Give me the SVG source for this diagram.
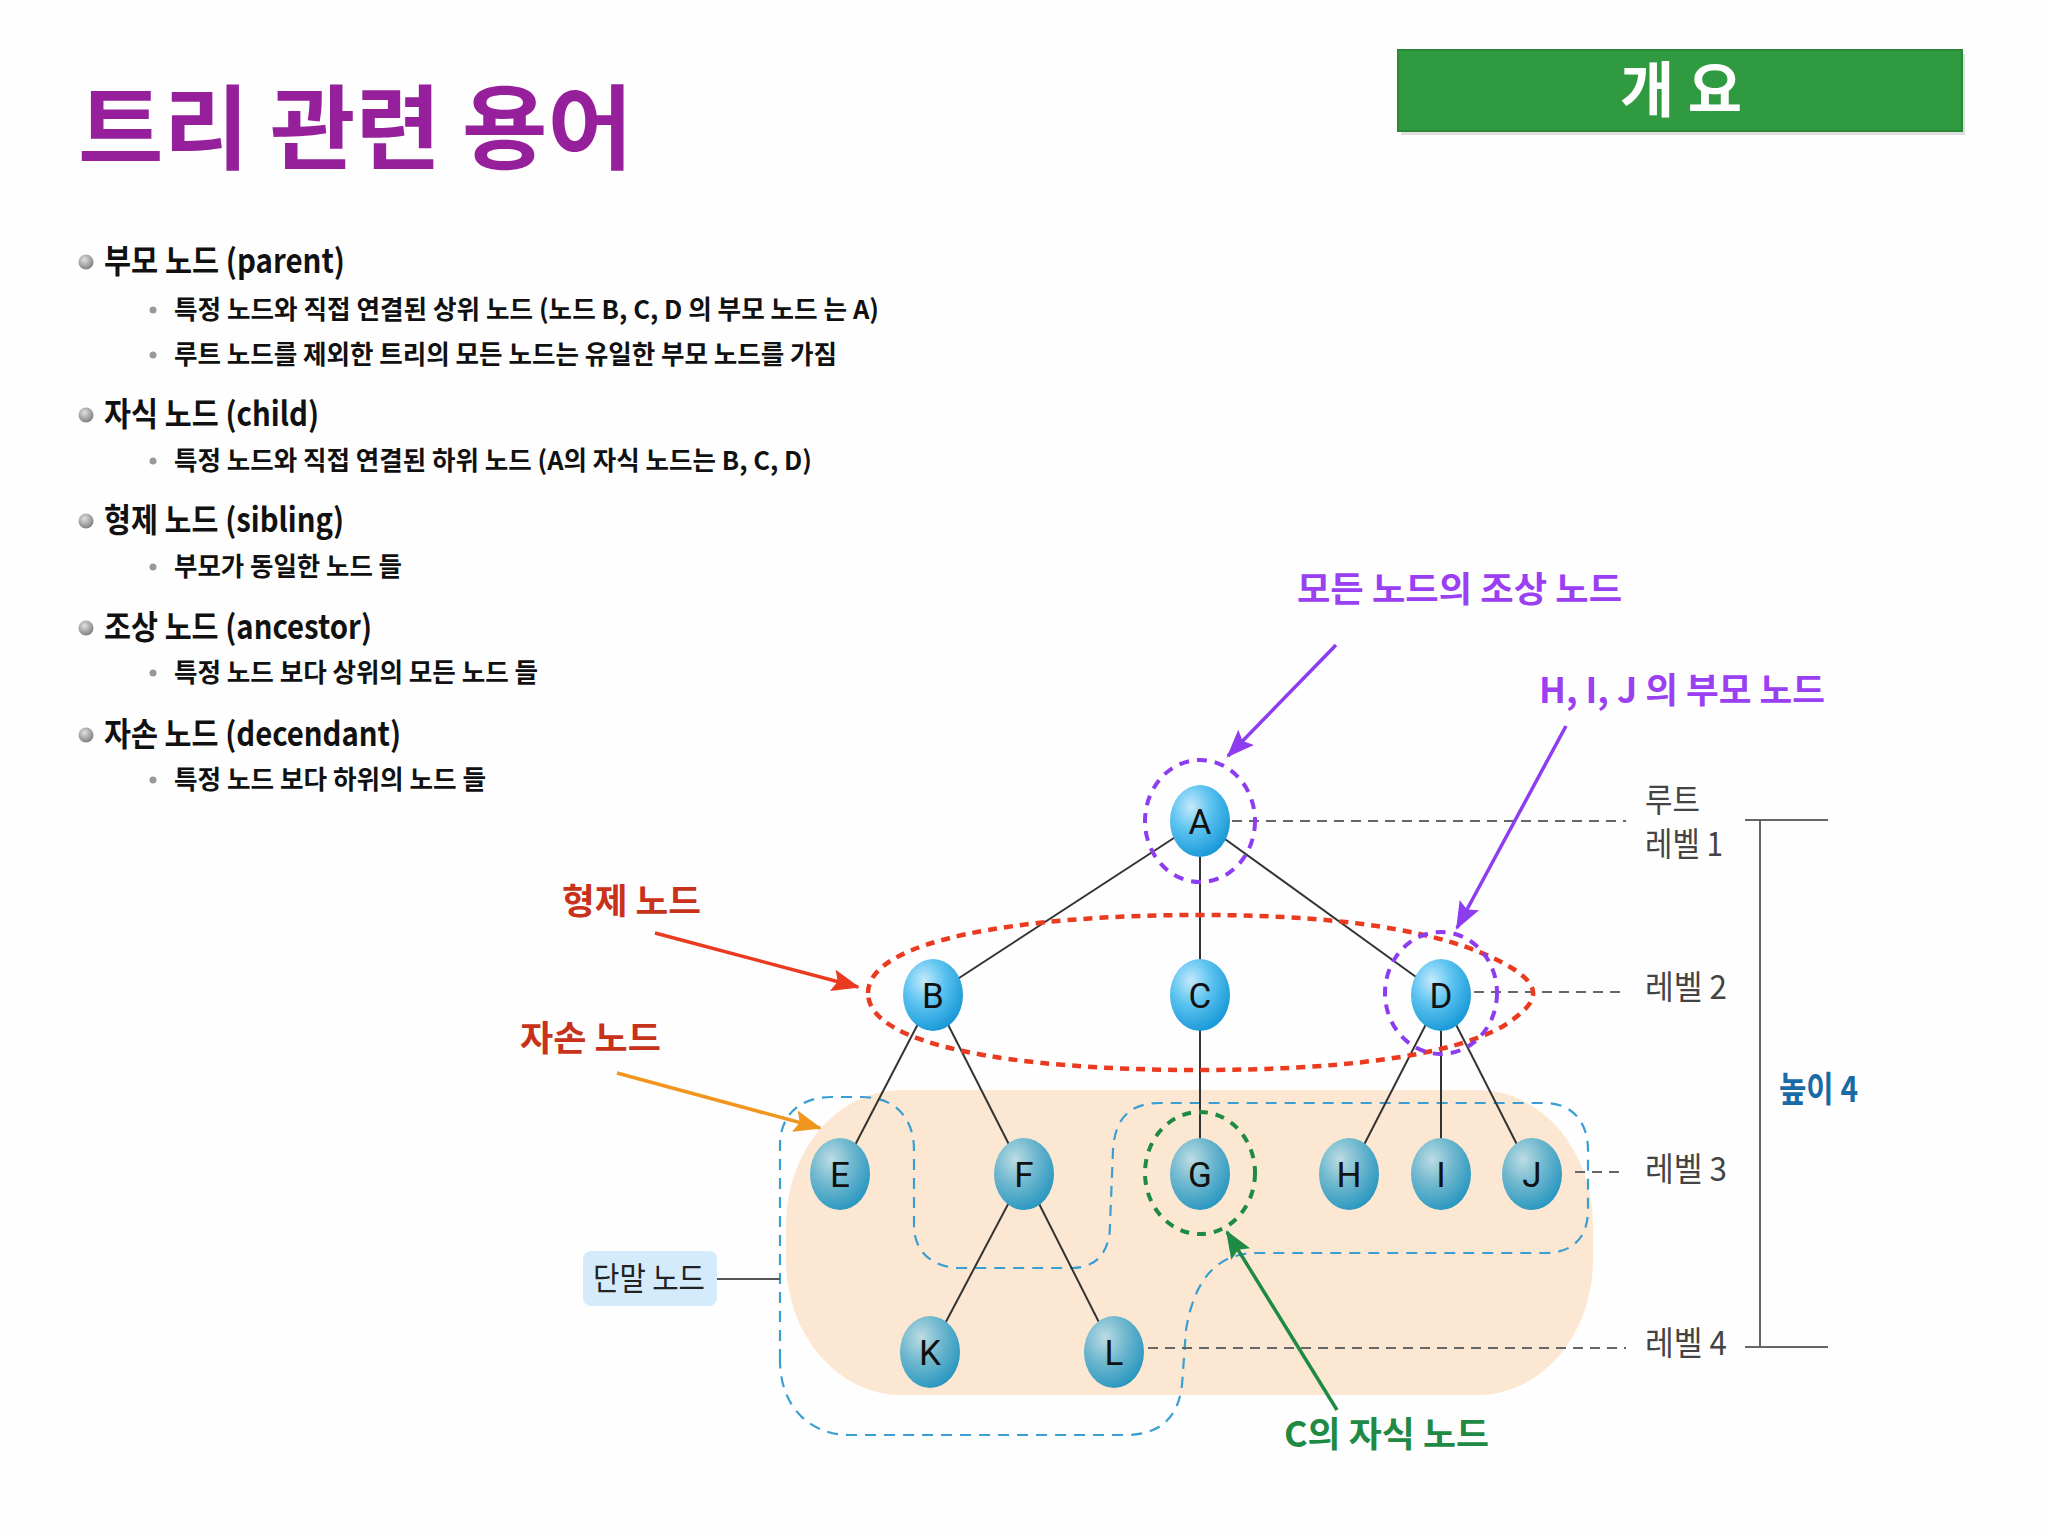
<svg xmlns="http://www.w3.org/2000/svg" width="2048" height="1536" viewBox="0 0 2048 1536">
<defs>
<style>
.kr{font-family:"Noto Sans CJK KR","Noto Sans",sans-serif}
.h1{font-size:33px;font-weight:700;fill:#111}
.h2{font-size:26px;font-weight:700;fill:#111}
.lv{font-size:33px;font-weight:400;fill:#444}
.call{font-size:35px;font-weight:700}
.edge{stroke:#333;stroke-width:2;fill:none}
.lvl{stroke:#666;stroke-width:2;stroke-dasharray:10 7;fill:none}
.nl{font-family:Roboto,"Liberation Sans",sans-serif;font-size:35px;fill:#111;text-anchor:middle}
.up{fill:url(#gUp)}
.lo{fill:url(#gLo)}
.purp{fill:none;stroke:#8d3cf0;stroke-width:4;stroke-dasharray:10 8}
</style>
<radialGradient id="gUp" cx="0.35" cy="0.3" r="0.75">
<stop offset="0" stop-color="#c4e9fb"/>
<stop offset="0.45" stop-color="#5cc3f0"/>
<stop offset="1" stop-color="#1697d6"/>
</radialGradient>
<radialGradient id="gLo" cx="0.35" cy="0.3" r="0.75">
<stop offset="0" stop-color="#bcdce4"/>
<stop offset="0.45" stop-color="#72b9cf"/>
<stop offset="1" stop-color="#2796bf"/>
</radialGradient>
<radialGradient id="gBul" cx="0.4" cy="0.35" r="0.7">
<stop offset="0" stop-color="#e0e0e0"/>
<stop offset="1" stop-color="#7a7a7a"/>
</radialGradient>
<marker id="mPurp" markerUnits="userSpaceOnUse" markerWidth="30" markerHeight="24" refX="26" refY="11" orient="auto"><path d="M0,0 L28,11 L0,22 L5,11 z" fill="#8d3cf0"/></marker>
<marker id="mRed" markerUnits="userSpaceOnUse" markerWidth="30" markerHeight="24" refX="26" refY="11" orient="auto"><path d="M0,0 L28,11 L0,22 L5,11 z" fill="#ea3a1f"/></marker>
<marker id="mOr" markerUnits="userSpaceOnUse" markerWidth="30" markerHeight="24" refX="26" refY="11" orient="auto"><path d="M0,0 L28,11 L0,22 L5,11 z" fill="#f0961f"/></marker>
<marker id="mGr" markerUnits="userSpaceOnUse" markerWidth="30" markerHeight="24" refX="26" refY="11" orient="auto"><path d="M0,0 L28,11 L0,22 L5,11 z" fill="#1f8a44"/></marker>
</defs>
<rect width="2048" height="1536" fill="#fefefe"/>

<g id="title">
<text class="kr" x="78" y="162" font-size="92" font-weight="700" fill="#96209c" textLength="555" lengthAdjust="spacingAndGlyphs">트리 관련 용어</text>
</g>
<g id="header-box">
<rect x="1401" y="54" width="564" height="81" fill="#c8c8c8" opacity="0.6"/>
<rect x="1398" y="50" width="564" height="81" fill="#2f9a3f" stroke="#2a8836" stroke-width="2"/>
<text class="kr" x="1681" y="112" font-size="60" font-weight="700" fill="#fff" text-anchor="middle" textLength="122" lengthAdjust="spacingAndGlyphs">개 요</text>
</g>

<g id="bullets">
<circle cx="86" cy="262" r="7.5" fill="url(#gBul)"/>
<text class="kr h1" x="104" y="273" textLength="241" lengthAdjust="spacingAndGlyphs">부모 노드 (parent)</text>
<circle cx="153" cy="310" r="3.5" fill="#999"/>
<text class="kr h2" x="174" y="319" textLength="705" lengthAdjust="spacingAndGlyphs">특정 노드와 직접 연결된 상위 노드 (노드 B, C, D 의 부모 노드 는 A)</text>
<circle cx="153" cy="355" r="3.5" fill="#999"/>
<text class="kr h2" x="174" y="364" textLength="663" lengthAdjust="spacingAndGlyphs">루트 노드를 제외한 트리의 모든 노드는 유일한 부모 노드를 가짐</text>

<circle cx="86" cy="415" r="7.5" fill="url(#gBul)"/>
<text class="kr h1" x="104" y="426" textLength="215" lengthAdjust="spacingAndGlyphs">자식 노드 (child)</text>
<circle cx="153" cy="461" r="3.5" fill="#999"/>
<text class="kr h2" x="174" y="470" textLength="638" lengthAdjust="spacingAndGlyphs">특정 노드와 직접 연결된 하위 노드 (A의 자식 노드는 B, C, D)</text>

<circle cx="86" cy="521" r="7.5" fill="url(#gBul)"/>
<text class="kr h1" x="104" y="532" textLength="240" lengthAdjust="spacingAndGlyphs">형제 노드 (sibling)</text>
<circle cx="153" cy="567" r="3.5" fill="#999"/>
<text class="kr h2" x="174" y="576" textLength="228" lengthAdjust="spacingAndGlyphs">부모가 동일한 노드 들</text>

<circle cx="86" cy="628" r="7.5" fill="url(#gBul)"/>
<text class="kr h1" x="104" y="639" textLength="268" lengthAdjust="spacingAndGlyphs">조상 노드 (ancestor)</text>
<circle cx="153" cy="673" r="3.5" fill="#999"/>
<text class="kr h2" x="174" y="682" textLength="364" lengthAdjust="spacingAndGlyphs">특정 노드 보다 상위의 모든 노드 들</text>

<circle cx="86" cy="735" r="7.5" fill="url(#gBul)"/>
<text class="kr h1" x="104" y="746" textLength="297" lengthAdjust="spacingAndGlyphs">자손 노드 (decendant)</text>
<circle cx="153" cy="780" r="3.5" fill="#999"/>
<text class="kr h2" x="174" y="789" textLength="312" lengthAdjust="spacingAndGlyphs">특정 노드 보다 하위의 노드 들</text>
</g>

<g id="leaf-area">
<rect x="786" y="1090" width="807" height="305" rx="115" ry="135" fill="#fce8d2"/>
</g>

<g id="connectors">
<path id="leaf-outline" d="M780 1360 L780 1145 C780 1115 800 1097 832 1097 L862 1097 C895 1097 914 1118 914 1150 L914 1225 C914 1252 932 1268 962 1268 L1072 1268 C1098 1268 1110 1250 1110 1225 L1113 1150 C1115 1118 1130 1103 1160 1103 L1545 1103 C1572 1103 1588 1122 1588 1150 L1588 1210 C1588 1238 1572 1253 1545 1253 L1257 1253 C1220 1253 1195 1275 1186 1330 L1182 1385 C1178 1418 1160 1435 1125 1435 L850 1435 C808 1435 780 1405 780 1360 Z" fill="none" stroke="#3a9ed3" stroke-width="2.2" stroke-dasharray="11 8"/>
<line class="edge" x1="1200" y1="821" x2="933" y2="995"/>
<line class="edge" x1="1200" y1="821" x2="1200" y2="995"/>
<line class="edge" x1="1200" y1="821" x2="1441" y2="995"/>
<line class="edge" x1="933" y1="995" x2="840" y2="1174"/>
<line class="edge" x1="933" y1="995" x2="1024" y2="1174"/>
<line class="edge" x1="1200" y1="995" x2="1200" y2="1174"/>
<line class="edge" x1="1441" y1="995" x2="1349" y2="1174"/>
<line class="edge" x1="1441" y1="995" x2="1441" y2="1174"/>
<line class="edge" x1="1441" y1="995" x2="1532" y2="1174"/>
<line class="edge" x1="1024" y1="1174" x2="930" y2="1352"/>
<line class="edge" x1="1024" y1="1174" x2="1114" y2="1352"/>
<line class="lvl" x1="1232" y1="821" x2="1626" y2="821"/>
<line class="lvl" x1="1474" y1="992" x2="1626" y2="992"/>
<line class="lvl" x1="1575" y1="1172" x2="1626" y2="1172"/>
<line class="lvl" x1="1148" y1="1348" x2="1626" y2="1348"/>
<line x1="717" y1="1279" x2="780" y2="1279" stroke="#555" stroke-width="2"/>
<line x1="1745" y1="820" x2="1828" y2="820" stroke="#666" stroke-width="2"/>
<line x1="1760" y1="820" x2="1760" y2="1347" stroke="#666" stroke-width="2"/>
<line x1="1745" y1="1347" x2="1828" y2="1347" stroke="#666" stroke-width="2"/>
<line x1="1336" y1="645" x2="1228" y2="756" stroke="#8d3cf0" stroke-width="3.5" marker-end="url(#mPurp)"/>
<line x1="1566" y1="726" x2="1457" y2="928" stroke="#8d3cf0" stroke-width="3.5" marker-end="url(#mPurp)"/>
<line x1="655" y1="933" x2="858" y2="987" stroke="#ea3a1f" stroke-width="3.5" marker-end="url(#mRed)"/>
<line x1="617" y1="1073" x2="820" y2="1128" stroke="#f0961f" stroke-width="3.5" marker-end="url(#mOr)"/>
<line x1="1337" y1="1410" x2="1227" y2="1232" stroke="#1f8a44" stroke-width="3.5" marker-end="url(#mGr)"/>
</g>

<g id="node-A"><ellipse class="up" cx="1200" cy="821" rx="30" ry="36"/><text class="nl" x="1200" y="834">A</text></g>
<g id="node-B"><ellipse class="up" cx="933" cy="995" rx="30" ry="36"/><text class="nl" x="933" y="1008">B</text></g>
<g id="node-C"><ellipse class="up" cx="1200" cy="995" rx="30" ry="36"/><text class="nl" x="1200" y="1008">C</text></g>
<g id="node-D"><ellipse class="up" cx="1441" cy="995" rx="30" ry="36"/><text class="nl" x="1441" y="1008">D</text></g>
<g id="node-E"><ellipse class="lo" cx="840" cy="1174" rx="30" ry="36"/><text class="nl" x="840" y="1187">E</text></g>
<g id="node-F"><ellipse class="lo" cx="1024" cy="1174" rx="30" ry="36"/><text class="nl" x="1024" y="1187">F</text></g>
<g id="node-G"><ellipse class="lo" cx="1200" cy="1174" rx="30" ry="36"/><text class="nl" x="1200" y="1187">G</text></g>
<g id="node-H"><ellipse class="lo" cx="1349" cy="1174" rx="30" ry="36"/><text class="nl" x="1349" y="1187">H</text></g>
<g id="node-I"><ellipse class="lo" cx="1441" cy="1174" rx="30" ry="36"/><text class="nl" x="1441" y="1187">I</text></g>
<g id="node-J"><ellipse class="lo" cx="1532" cy="1174" rx="30" ry="36"/><text class="nl" x="1532" y="1187">J</text></g>
<g id="node-K"><ellipse class="lo" cx="930" cy="1352" rx="30" ry="36"/><text class="nl" x="930" y="1365">K</text></g>
<g id="node-L"><ellipse class="lo" cx="1114" cy="1352" rx="30" ry="36"/><text class="nl" x="1114" y="1365">L</text></g>

<g id="highlights">
<path d="M868 993 C868 940 1020 915 1200 915 C1360 915 1460 935 1515 970 C1545 990 1535 1005 1505 1025 C1450 1058 1330 1070 1200 1070 C1010 1070 868 1045 868 993 Z" fill="none" stroke="#ea3a1f" stroke-width="4.5" stroke-dasharray="9 7"/>
<ellipse class="purp" cx="1200" cy="821" rx="55" ry="61"/>
<ellipse class="purp" cx="1441" cy="993" rx="56" ry="61"/>
<ellipse cx="1200" cy="1173" rx="55" ry="61" fill="none" stroke="#1f8a44" stroke-width="4" stroke-dasharray="9 8"/>
</g>

<g id="labels">
<text class="kr call" x="1297" y="602" fill="#9a40f2" textLength="325" lengthAdjust="spacingAndGlyphs">모든 노드의 조상 노드</text>
<text class="kr call" x="1539" y="703" fill="#9a40f2" textLength="286" lengthAdjust="spacingAndGlyphs">H, I, J 의 부모 노드</text>
<text class="kr call" x="562" y="914" fill="#c8321a" textLength="139" lengthAdjust="spacingAndGlyphs">형제 노드</text>
<text class="kr call" x="520" y="1051" fill="#c8321a" textLength="141" lengthAdjust="spacingAndGlyphs">자손 노드</text>
<text class="kr call" x="1284" y="1447" fill="#1f8a44" textLength="205" lengthAdjust="spacingAndGlyphs">C의 자식 노드</text>
<text class="kr lv" x="1645" y="812" textLength="55" lengthAdjust="spacingAndGlyphs">루트</text>
<text class="kr lv" x="1645" y="856" textLength="78" lengthAdjust="spacingAndGlyphs">레벨 1</text>
<text class="kr lv" x="1645" y="999" textLength="82" lengthAdjust="spacingAndGlyphs">레벨 2</text>
<text class="kr lv" x="1645" y="1181" textLength="82" lengthAdjust="spacingAndGlyphs">레벨 3</text>
<text class="kr lv" x="1645" y="1355" textLength="82" lengthAdjust="spacingAndGlyphs">레벨 4</text>
<text class="kr" x="1779" y="1102" font-size="35" font-weight="700" fill="#1a6aa5" textLength="79" lengthAdjust="spacingAndGlyphs">높이 4</text>
</g>

<g id="node-terminal-label">
<rect x="583" y="1251" width="134" height="55" rx="8" fill="#d3ebfa"/>
<text class="kr" x="593" y="1290" font-size="32" fill="#222" textLength="112" lengthAdjust="spacingAndGlyphs">단말 노드</text>
</g>
</svg>
